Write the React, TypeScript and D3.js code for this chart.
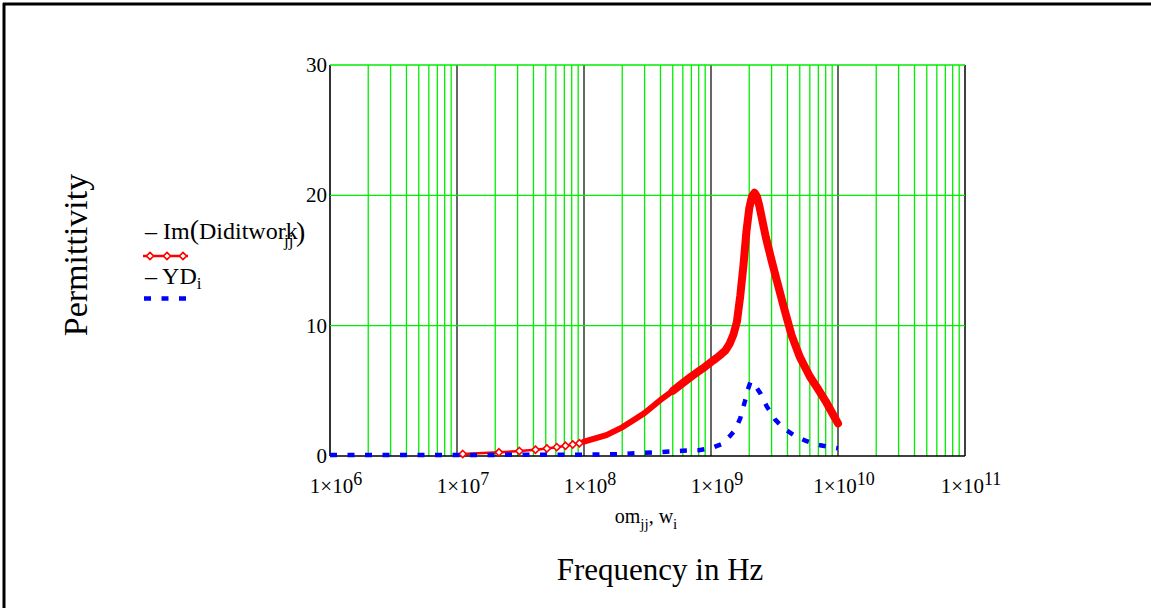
import React from "react";
import * as d3 from "d3";

// ---- data ----
const X_EXPONENTS = [6, 7, 8, 9, 10, 11];
const Y_TICKS = [0, 10, 20, 30];

// Im(Diditwork_jj) vs om_jj
const IM_FREQ = [
  1.11e7, 2.14e7, 3.1e7, 4.15e7, 5.1e7, 6.1e7, 7.15e7, 8.15e7, 9.2e7,
  1.0e8, 1.5e8, 2e8, 2.5e8, 3e8, 4e8, 5e8, 6e8, 7e8, 8e8, 9e8,
  1.0e9, 1.1e9, 1.2e9, 1.3e9, 1.4e9, 1.5e9, 1.6e9, 1.7e9, 1.8e9, 1.9e9,
  2.0e9, 2.1e9, 2.2e9, 2.3e9, 2.4e9, 2.7e9, 3.0e9, 3.25e9, 3.75e9, 4.3e9,
  5.0e9, 6.0e9, 7.0e9, 8.0e9, 9.0e9, 1.0e10,
];
const IM_VALUES = [
  0.15, 0.28, 0.38, 0.48, 0.58, 0.68, 0.78, 0.88, 0.98,
  1.1, 1.6, 2.2, 2.8, 3.3, 4.3, 5.0, 5.6, 6.1, 6.5, 6.85,
  7.2, 7.5, 7.8, 8.1, 8.6, 9.3, 10.3, 12.3, 14.6, 17.2,
  19.0, 19.9, 20.2, 19.9, 19.2, 16.8, 15.0, 13.7, 11.4, 9.3,
  7.6, 6.1, 5.1, 4.2, 3.3, 2.5,
];

// YD_i vs w_i
const YD_FREQ = [
  1e6, 1e7, 1e8, 2e8, 3e8, 4e8, 5e8, 6e8, 8e8, 1e9,
  1.2e9, 1.4e9, 1.55e9, 1.7e9, 1.85e9, 1.95e9, 2.05e9, 2.2e9, 2.45e9, 2.75e9,
  3.2e9, 3.75e9, 4.5e9, 5.6e9, 7e9, 8.5e9, 1e10,
];
const YD_VALUES = [
  0.08, 0.08, 0.1, 0.15, 0.25, 0.3, 0.35, 0.4, 0.45, 0.6,
  0.9, 1.5, 2.0, 2.9, 4.2, 5.1, 5.7, 5.5, 4.8, 3.8,
  2.8, 2.1, 1.6, 1.15, 0.85, 0.7, 0.6,
];

const SERIF = "'Liberation Serif', 'Times New Roman', serif";
const GREEN = "#00ee00";
const RED = "#ff0000";
const BLUE = "#0000ff";

export default function App() {
  const W = 1151, H = 608;
  const left = 330, right = 965, top = 65, bottom = 456;
  const x = d3.scaleLog().domain([1e6, 1e11]).range([left, right]);
  const y = d3.scaleLinear().domain([0, 30]).range([bottom, top]);

  const minorX: number[] = [];
  for (let e = 6; e < 11; e++) for (let k = 2; k <= 9; k++) minorX.push(k * 10 ** e);

  const imPts = IM_FREQ.map((f, i) => [f, IM_VALUES[i]] as [number, number]);
  const ydPts = YD_FREQ.map((f, i) => [f, YD_VALUES[i]] as [number, number]);
  const line = d3.line<[number, number]>().x((d) => x(d[0])).y((d) => y(d[1]));
  const bandLow = imPts.filter((d) => d[0] >= 1e8 && d[0] <= 5e8);
  const bandHigh = imPts.filter((d) => d[0] >= 5e8);
  const sparsePts = imPts.filter((d) => d[0] < 1e8);

  const diamond = (cx: number, cy: number, r = 3.6) =>
    `M${cx},${cy - r}L${cx + r},${cy}L${cx},${cy + r}L${cx - r},${cy}Z`;

  return (
    <svg width={W} height={H} style={{ position: "absolute", left: 0, top: 0, background: "#fff" }} fontFamily={SERIF}>
      {/* outer frame (left and top only) */}
      <line x1={4} y1={3} x2={4} y2={H} stroke="#000" strokeWidth={3} />
      <line x1={3} y1={4} x2={W} y2={4} stroke="#000" strokeWidth={3} />

      {/* minor green gridlines */}
      {minorX.map((f) => (
        <line key={"m" + f} x1={x(f)} x2={x(f)} y1={top} y2={bottom} stroke={GREEN} strokeWidth={1.3} />
      ))}
      {/* decade lines */}
      {X_EXPONENTS.slice(1, -1).map((e) => (
        <line key={"d" + e} x1={x(10 ** e)} x2={x(10 ** e)} y1={top} y2={bottom} stroke="#000" strokeWidth={1.2} />
      ))}
      {/* plot border */}
      <line x1={left} x2={left} y1={top} y2={bottom} stroke="#333" strokeWidth={2} />
      <line x1={right} x2={right} y1={top} y2={bottom} stroke="#000" strokeWidth={1.5} />
      <line x1={left} x2={right} y1={bottom} y2={bottom} stroke="#000" strokeWidth={1.5} />
      {/* horizontal grid */}
      {Y_TICKS.filter((t) => t > 0).map((t) => (
        <line key={"h" + t} x1={left} x2={right} y1={y(t)} y2={y(t)} stroke={GREEN} strokeWidth={1.3} />
      ))}

      {/* Im series */}
      <path d={line(imPts) || ""} fill="none" stroke={RED} strokeWidth={2.5} />
      <path d={line(bandLow) || ""} fill="none" stroke={RED} strokeWidth={6} strokeLinejoin="round" strokeLinecap="round" />
      <path d={line(bandHigh) || ""} fill="none" stroke={RED} strokeWidth={8} strokeLinejoin="round" strokeLinecap="round" />
      {sparsePts.map((d, i) => (
        <path key={"dm" + i} d={diamond(x(d[0]), y(d[1]))} fill="#fff" stroke={RED} strokeWidth={1.6} />
      ))}

      {/* YD series */}
      <path d={line(ydPts) || ""} fill="none" stroke={BLUE} strokeWidth={4.5} strokeDasharray="7 10.5" />

      {/* Y tick labels */}
      {Y_TICKS.map((t) => (
        <text key={"yt" + t} x={327} y={y(t)} textAnchor="end" dominantBaseline="central" fontSize={21} fill="#000">
          {t}
        </text>
      ))}
      {/* X tick labels */}
      {X_EXPONENTS.map((e) => (
        <text key={"xt" + e} x={x(10 ** e) + 6} y={493} textAnchor="middle" fontSize={21} fill="#000">
          1×10
          <tspan dy={-8} fontSize={18}>{e}</tspan>
        </text>
      ))}

      {/* x variable label */}
      <text x={646} y={523} textAnchor="middle" fontSize={20} fill="#000">
        om<tspan dy={6} fontSize={15}>jj</tspan>
        <tspan dy={-6}>, w</tspan>
        <tspan dy={6} fontSize={15}>i</tspan>
      </text>
      <text x={660} y={580} textAnchor="middle" fontSize={31} fill="#000">Frequency in Hz</text>
      <text transform="translate(87,255) rotate(-90)" textAnchor="middle" fontSize={34} fill="#000">Permittivity</text>

      {/* legend */}
      <text x={145} y={239} fontSize={24} fill="#000">
        – Im<tspan fontSize={28}>(</tspan>Diditwork
      </text>
      <text x={284} y={246} fontSize={17} fill="#000">jj</text>
      <text x={296} y={241} fontSize={28} fill="#000">)</text>
      <line x1={143} x2={188} y1={256} y2={256} stroke={RED} strokeWidth={2.5} />
      {[150, 167, 183].map((cx) => (
        <path key={"ld" + cx} d={diamond(cx, 256)} fill="#fff" stroke={RED} strokeWidth={1.6} />
      ))}
      <text x={145} y={284} fontSize={24} fill="#000">
        – YD<tspan dy={5} fontSize={17}>i</tspan>
      </text>
      <line x1={144} x2={190} y1={298.5} y2={298.5} stroke={BLUE} strokeWidth={4.5} strokeDasharray="7 10.5" />
    </svg>
  );
}
